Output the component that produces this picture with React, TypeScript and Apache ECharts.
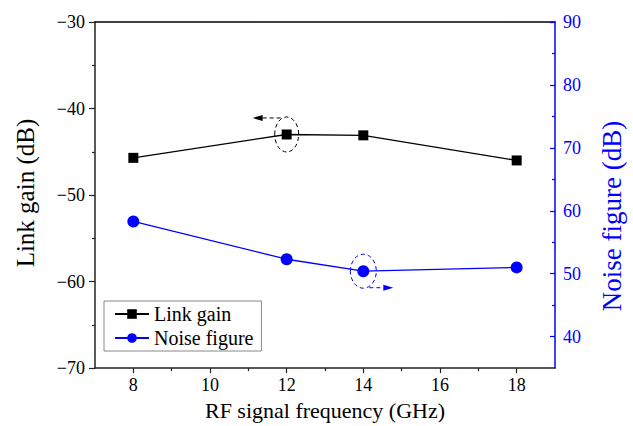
import React, { useEffect, useRef } from "react";
import * as echarts from "echarts";

// Measured link gain and noise figure versus RF signal frequency
const frequencies = [8, 12, 14, 18];
const linkGain = [-45.7, -43.0, -43.1, -46.0];
const noiseFigure = [58.3, 52.3, 50.4, 51.0];

// Axis ticks
const xTicks = [8, 10, 12, 14, 16, 18];
const xMinorTicks = [9, 11, 13, 15, 17];
const nfTicks = [40, 50, 60, 70, 80, 90];
const nfMinorTicks = [45, 55, 65, 75, 85];

const FONT = "Liberation Serif, Times New Roman, serif";
const BLUE = "#0000ff";
const AXIS_BLACK = "#222";

const minus = (v: number) => String(v).replace("-", "\u2212");

export default function App() {
  const ref = useRef<HTMLDivElement>(null);

  useEffect(() => {
    if (!ref.current) return;
    const chart = echarts.init(ref.current, null, { renderer: "svg" });

    const gainData = frequencies.map((f, i) => [f, linkGain[i]]);
    const nfData = frequencies.map((f, i) => [f, noiseFigure[i]]);

    chart.setOption({
      animation: false,
      backgroundColor: "#fff",
      textStyle: { fontFamily: FONT },
      grid: { left: 95, right: 65, top: 22, bottom: 55, containLabel: false },
      legend: {
        orient: "vertical",
        left: 104,
        top: 301,
        data: ["Link gain", "Noise figure"],
        borderColor: "#888",
        borderWidth: 1,
        padding: [3, 8, 3, 10],
        itemWidth: 34,
        itemHeight: 12,
        itemGap: 4,
        textStyle: { fontFamily: FONT, fontSize: 20, color: "#000" },
      },
      xAxis: [
        {
          type: "value",
          min: 7,
          max: 19,
          position: "bottom",
          name: "RF signal frequency (GHz)",
          nameLocation: "middle",
          nameGap: 30,
          nameTextStyle: { fontFamily: FONT, fontSize: 22, color: "#000" },
          axisLine: { onZero: false, lineStyle: { color: AXIS_BLACK, width: 1.5 } },
          axisTick: { customValues: xTicks, length: 5, lineStyle: { color: AXIS_BLACK, width: 1.2 } },
          axisLabel: { customValues: xTicks, fontFamily: FONT, fontSize: 18, color: "#000", margin: 8 },
          splitLine: { show: false },
        },
        {
          type: "value",
          min: 7,
          max: 19,
          position: "bottom",
          axisLine: { show: false, onZero: false },
          axisTick: { customValues: xMinorTicks, length: 3, lineStyle: { color: AXIS_BLACK, width: 1.2 } },
          axisLabel: { show: false },
          splitLine: { show: false },
        },
        {
          type: "value",
          min: 7,
          max: 19,
          position: "top",
          axisLine: { onZero: false, lineStyle: { color: "#000", width: 1.5 } },
          axisTick: { show: false },
          axisLabel: { show: false },
          splitLine: { show: false },
        },
      ],
      yAxis: [
        {
          type: "value",
          min: -70,
          max: -30,
          interval: 10,
          position: "left",
          name: "Link gain (dB)",
          nameLocation: "middle",
          nameRotate: 90,
          nameGap: 57,
          nameTextStyle: { fontFamily: FONT, fontSize: 25, color: "#000", padding: [0, 0, 0, 4] },
          axisLine: { onZero: false, lineStyle: { color: AXIS_BLACK, width: 1.5 } },
          axisTick: { length: 6, lineStyle: { color: AXIS_BLACK, width: 1.2 } },
          minorTick: { show: true, splitNumber: 2, length: 3, lineStyle: { color: AXIS_BLACK, width: 1.2 } },
          axisLabel: { formatter: minus, fontFamily: FONT, fontSize: 18, color: "#000", margin: 10 },
          splitLine: { show: false },
        },
        {
          type: "value",
          min: 35,
          max: 90,
          position: "right",
          name: "Noise figure (dB)",
          nameLocation: "middle",
          nameRotate: 90,
          nameGap: 43,
          nameTextStyle: { fontFamily: FONT, fontSize: 27, color: BLUE, padding: [0, 42, 0, 0] },
          axisLine: { onZero: false, lineStyle: { color: BLUE, width: 1.5 } },
          axisTick: { customValues: nfTicks, inside: true, length: 5, lineStyle: { color: BLUE, width: 1.2 } },
          axisLabel: { customValues: nfTicks, fontFamily: FONT, fontSize: 18, color: BLUE, margin: 8 },
          splitLine: { show: false },
        },
        {
          type: "value",
          min: 35,
          max: 90,
          position: "right",
          axisLine: { show: false, onZero: false },
          axisTick: { customValues: nfMinorTicks, inside: true, length: 3, lineStyle: { color: BLUE, width: 1.2 } },
          axisLabel: { show: false },
          splitLine: { show: false },
        },
      ],
      series: [
        {
          name: "Link gain",
          type: "line",
          xAxisIndex: 0,
          yAxisIndex: 0,
          data: gainData,
          symbol: "rect",
          symbolSize: 10,
          lineStyle: { color: "#000", width: 1.3 },
          itemStyle: { color: "#000" },
          z: 3,
        },
        {
          name: "Noise figure",
          type: "line",
          xAxisIndex: 0,
          yAxisIndex: 1,
          data: nfData,
          symbol: "circle",
          symbolSize: 12,
          lineStyle: { color: BLUE, width: 1.3 },
          itemStyle: { color: BLUE },
          z: 3,
        },
      ],
    });

    // Dashed ellipses with arrows pointing each curve to its own axis
    const g = chart.convertToPixel({ xAxisIndex: 0, yAxisIndex: 0 }, [frequencies[1], linkGain[1]]) as number[];
    const n = chart.convertToPixel({ xAxisIndex: 0, yAxisIndex: 1 }, [frequencies[2], noiseFigure[2]]) as number[];
    const rx = 12;
    const ry = 17.5;
    const gTop = g[1] - ry + 1;
    const nBot = n[1] + ry - 1;

    chart.setOption({
      graphic: [
        {
          type: "ellipse",
          shape: { cx: g[0], cy: g[1], rx, ry },
          style: { fill: "none", stroke: "#000", lineWidth: 1, lineDash: [4, 3] },
          z: 10,
        },
        {
          type: "line",
          shape: { x1: g[0] - 6, y1: gTop, x2: g[0] - 24, y2: gTop },
          style: { stroke: "#000", lineWidth: 1, lineDash: [4, 3] },
          z: 10,
        },
        {
          type: "polygon",
          shape: { points: [[g[0] - 24, gTop - 3], [g[0] - 34, gTop], [g[0] - 24, gTop + 3]] },
          style: { fill: "#000" },
          z: 10,
        },
        {
          type: "ellipse",
          shape: { cx: n[0], cy: n[1], rx: 13, ry: 17 },
          style: { fill: "none", stroke: BLUE, lineWidth: 1, lineDash: [4, 3] },
          z: 10,
        },
        {
          type: "line",
          shape: { x1: n[0] + 6, y1: nBot, x2: n[0] + 20, y2: nBot },
          style: { stroke: BLUE, lineWidth: 1, lineDash: [4, 3] },
          z: 10,
        },
        {
          type: "polygon",
          shape: { points: [[n[0] + 20, nBot - 3], [n[0] + 30, nBot], [n[0] + 20, nBot + 3]] },
          style: { fill: BLUE },
          z: 10,
        },
      ],
    });

    return () => chart.dispose();
  }, []);

  return (
    <div
      ref={ref}
      style={{ position: "absolute", left: 0, top: 0, width: 633, height: 426 }}
    />
  );
}
